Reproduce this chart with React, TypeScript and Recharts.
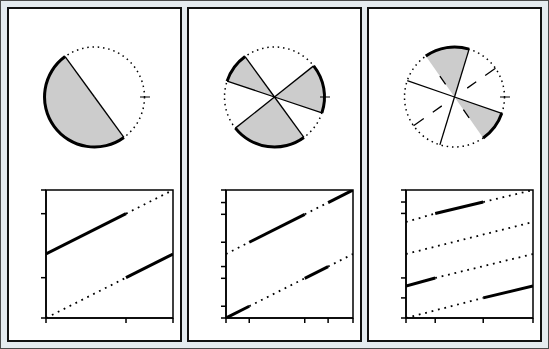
import { PieChart, Pie, Cell, PolarGrid, LineChart, Line, XAxis, YAxis, ReferenceArea } from "recharts"

// circle arcs, going counter-clockwise from the start angle (degrees)
const ARCS_1 = [
  { deg: 180, shaded: true },
  { deg: 180, shaded: false },
]
const ARCS_2 = [
  { deg: 57, shaded: true },
  { deg: 87.5, shaded: false },
  { deg: 35.5, shaded: true },
  { deg: 57, shaded: false },
  { deg: 87.5, shaded: true },
  { deg: 35.5, shaded: false },
]
const ARCS_3 = [
  { deg: 36, shaded: true },
  { deg: 92, shaded: false },
  { deg: 52, shaded: true },
  { deg: 180, shaded: false },
]
const START_1 = 126
const START_2 = -18.5
const START_3 = 305

const SOLID_RAYS_1 = [126, 306]
const SOLID_RAYS_2 = [-18.5, 38.5, 126, 161.5, 218.5, 306]
const SOLID_RAYS_3 = [341, 161, 73, 253]
const DASHED_RAYS_3 = [35, 215]
const SHORT_DASH_RAYS_3 = [125, 305]

// wrapped lines: breakpoints [x, y] and whether each piece is solid
const LINES_1 = [
  { pts: [[0, 0.5], [0.63, 0.815], [1, 1]], solid: [true, false] },
  { pts: [[0, 0], [0.63, 0.315], [1, 0.5]], solid: [false, true] },
]
const LINES_2 = [
  { pts: [[0, 0.5], [0.183, 0.592], [0.62, 0.81], [0.804, 0.902], [1, 1]], solid: [false, true, false, true] },
  { pts: [[0, 0], [0.183, 0.092], [0.62, 0.31], [0.804, 0.402], [1, 0.5]], solid: [true, false, true, false] },
]
const LINES_3 = [
  { pts: [[0, 0], [0.608, 0.157], [1, 0.25]], solid: [false, true] },
  { pts: [[0, 0.25], [0.23, 0.313], [1, 0.5]], solid: [true, false] },
  { pts: [[0, 0.5], [1, 0.75]], solid: [false] },
  { pts: [[0, 0.75], [0.23, 0.817], [0.608, 0.906], [1, 1]], solid: [false, true, false] },
]

const X_TICKS_1 = [0, 0.63, 1]
const X_TICKS_2 = [0, 0.183, 0.62, 0.804, 1]
const X_TICKS_3 = [0, 0.23, 0.608, 1]
const Y_TICKS_1 = [0, 0.315, 0.815, 1]
const Y_TICKS_2 = [0, 0.092, 0.31, 0.402, 0.592, 0.81, 0.902, 1]
const Y_TICKS_3 = [0, 0.157, 0.313, 0.817, 0.906, 1]

const ZERO_MARK = [{ v: 1 }]

type Arc = { deg: number; shaded: boolean }
type WrapLine = { pts: number[][]; solid: boolean[] }

type PanelProps = {
  index: number
  arcs: Arc[]
  start: number
  solidRays: number[]
  dashedRays?: number[]
  shortDashRays?: number[]
  lines: WrapLine[]
  xTicks: number[]
  yTicks: number[]
}

const CX = 85.5
const CY = 88
const R = 50

const Panel = ({ index, arcs, start, solidRays, dashedRays, shortDashRays, lines, xTicks, yTicks }: PanelProps) => {
  const segments: { key: string; data: { x: number; y: number }[]; solid: boolean }[] = []
  lines.forEach((ln, li) => {
    ln.solid.forEach((s, si) => {
      segments.push({
        key: `l${li}-${si}`,
        solid: s,
        data: [
          { x: ln.pts[si][0], y: ln.pts[si][1] },
          { x: ln.pts[si + 1][0], y: ln.pts[si + 1][1] },
        ],
      })
    })
  })
  // dotted pieces first, solid on top
  segments.sort((a, b) => Number(a.solid) - Number(b.solid))

  return (
    <div
      style={{
        position: "absolute",
        left: 6 + index * 180,
        top: 6,
        width: 175,
        height: 335,
        boxSizing: "border-box",
        border: "2px solid #111",
        background: "#fff",
      }}
    >
      <div style={{ position: "absolute", left: 0, top: 0 }}>
        <PieChart width={171} height={150} margin={{ top: 0, right: 0, bottom: 0, left: 0 }}>
          <Pie
            data={arcs}
            dataKey="deg"
            cx={CX}
            cy={CY}
            innerRadius={0}
            outerRadius={R}
            startAngle={start}
            endAngle={start + 360}
            stroke="none"
            isAnimationActive={false}
          >
            {arcs.map((a, i) => (
              <Cell key={i} fill={a.shaded ? "#cccccc" : "none"} stroke="none" />
            ))}
          </Pie>
          <Pie
            data={arcs}
            dataKey="deg"
            cx={CX}
            cy={CY}
            innerRadius={R - 1.5}
            outerRadius={R + 1.5}
            startAngle={start}
            endAngle={start + 360}
            stroke="none"
            isAnimationActive={false}
          >
            {arcs.map((a, i) => (
              <Cell key={i} fill={a.shaded ? "#000" : "none"} stroke="none" />
            ))}
          </Pie>
          <Pie
            data={ZERO_MARK}
            dataKey="v"
            cx={CX}
            cy={CY}
            innerRadius={R - 4.5}
            outerRadius={R + 5.5}
            startAngle={-0.6}
            endAngle={0.6}
            fill="#000"
            stroke="none"
            isAnimationActive={false}
          />
        </PieChart>
      </div>
      {/* rays and dotted rim on top of the filled slices */}
      <div style={{ position: "absolute", left: 0, top: 0 }}>
        <PieChart
          width={171}
          height={150}
          cx={CX}
          cy={CY}
          innerRadius={0}
          outerRadius={R}
          margin={{ top: 0, right: 0, bottom: 0, left: 0 }}
        >
          <PolarGrid
            gridType="circle"
            polarAngles={[]}
            polarRadius={[R]}
            stroke="#000"
            strokeWidth={1.5}
            strokeDasharray="1.5 3.8"
          />
          <PolarGrid
            gridType="circle"
            polarAngles={solidRays}
            polarRadius={[]}
            stroke="#000"
            strokeWidth={1.3}
          />
          {dashedRays && (
            <PolarGrid
              gridType="circle"
              polarAngles={dashedRays}
              polarRadius={[]}
              stroke="#000"
              strokeWidth={1.3}
              strokeDasharray="0 15.5 11 11 13"
            />
          )}
          {shortDashRays && (
            <PolarGrid
              gridType="circle"
              polarAngles={shortDashRays}
              polarRadius={[]}
              stroke="#000"
              strokeWidth={1.3}
              strokeDasharray="0 15.5 10 40"
            />
          )}
        </PieChart>
      </div>
      <div style={{ position: "absolute", left: 0, top: 150 }}>
        <LineChart width={171} height={169} margin={{ top: 31, right: 7, left: 0, bottom: 0 }}>
          <XAxis
            dataKey="x"
            type="number"
            domain={[0, 1]}
            ticks={xTicks}
            height={10}
            tickSize={5}
            tickFormatter={() => ""}
            axisLine={{ stroke: "#000", strokeWidth: 1.5 }}
            tickLine={{ stroke: "#000", strokeWidth: 1.5 }}
            allowDataOverflow
          />
          <YAxis
            type="number"
            domain={[0, 1]}
            ticks={yTicks}
            width={37}
            tickSize={5}
            tickFormatter={() => ""}
            axisLine={{ stroke: "#000", strokeWidth: 1.5 }}
            tickLine={{ stroke: "#000", strokeWidth: 1.5 }}
            allowDataOverflow
          />
          <ReferenceArea x1={0} x2={1} y1={0} y2={1} fill="none" stroke="#000" strokeWidth={1.5} />
          {segments.map((s) => (
            <Line
              key={s.key}
              data={s.data}
              dataKey="y"
              type="linear"
              stroke="#000"
              strokeWidth={s.solid ? 3 : 1.8}
              strokeDasharray={s.solid ? undefined : "1.8 4.8"}
              dot={false}
              activeDot={false}
              isAnimationActive={false}
            />
          ))}
        </LineChart>
      </div>
    </div>
  )
}

export default function App() {
  return (
    <div
      style={{
        position: "absolute",
        left: 0,
        top: 0,
        width: 549,
        height: 349,
        boxSizing: "border-box",
        border: "1px solid #4a4a4a",
        background: "#e5ebef",
        fontFamily: "DejaVu Sans",
      }}
    >
      <Panel index={0} arcs={ARCS_1} start={START_1} solidRays={SOLID_RAYS_1} lines={LINES_1} xTicks={X_TICKS_1} yTicks={Y_TICKS_1} />
      <Panel index={1} arcs={ARCS_2} start={START_2} solidRays={SOLID_RAYS_2} lines={LINES_2} xTicks={X_TICKS_2} yTicks={Y_TICKS_2} />
      <Panel
        index={2}
        arcs={ARCS_3}
        start={START_3}
        solidRays={SOLID_RAYS_3}
        dashedRays={DASHED_RAYS_3}
        shortDashRays={SHORT_DASH_RAYS_3}
        lines={LINES_3}
        xTicks={X_TICKS_3}
        yTicks={Y_TICKS_3}
      />
    </div>
  )
}
